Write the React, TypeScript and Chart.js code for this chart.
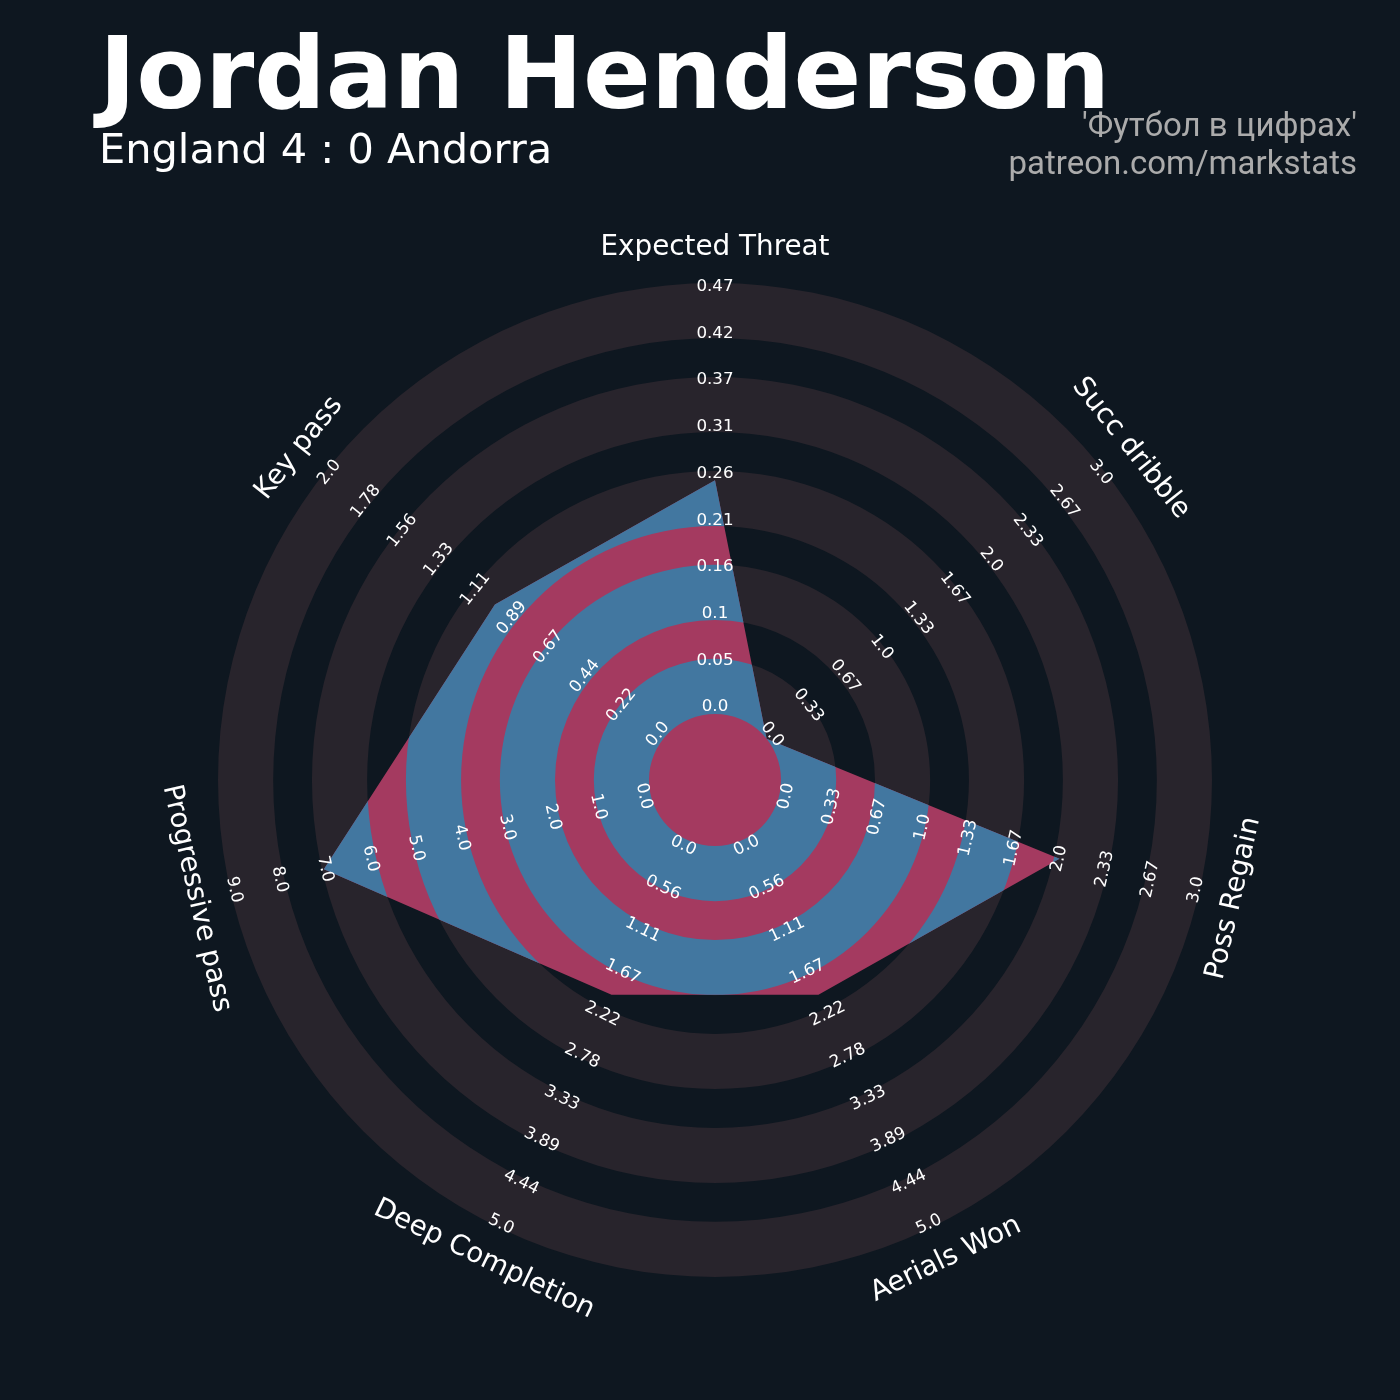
import React, { useEffect, useRef } from "react";
import { Chart, registerables } from "chart.js";

Chart.register(...registerables);

// ---------------- data ----------------
const params = [
  "Expected Threat",
  "Succ dribble",
  "Poss Regain",
  "Aerials Won",
  "Deep Completion",
  "Progressive pass",
  "Key pass",
];
const rangeMin = [0, 0, 0, 0, 0, 0, 0];
const rangeMax = [0.47, 3, 3, 5, 5, 9, 2];
const playerValues = [0.255, 0, 2, 2, 2, 7, 1];

const tickLabels = [
  ["0.0", "0.05", "0.1", "0.16", "0.21", "0.26", "0.31", "0.37", "0.42", "0.47"],
  ["0.0", "0.33", "0.67", "1.0", "1.33", "1.67", "2.0", "2.33", "2.67", "3.0"],
  ["0.0", "0.33", "0.67", "1.0", "1.33", "1.67", "2.0", "2.33", "2.67", "3.0"],
  ["0.0", "0.56", "1.11", "1.67", "2.22", "2.78", "3.33", "3.89", "4.44", "5.0"],
  ["0.0", "0.56", "1.11", "1.67", "2.22", "2.78", "3.33", "3.89", "4.44", "5.0"],
  ["0.0", "1.0", "2.0", "3.0", "4.0", "5.0", "6.0", "7.0", "8.0", "9.0"],
  ["0.0", "0.22", "0.44", "0.67", "0.89", "1.11", "1.33", "1.56", "1.78", "2.0"],
];

const titleText = "Jordan Henderson";
const subtitleText = "England 4 : 0 Andorra";
const creditLines = ["'Футбол в цифрах'", "patreon.com/markstats"];

// ---------------- style ----------------
const BG = "#0E1720";
const RING = "#28242C";
const PINK = "#A43A60";
const BLUE = "#4277A0";
const CREDIT = "#ABABAB";
// ring bands in normalized radial units (0 = inner circle edge, 1 = outer edge)
const ringStarts = [0, 0.218, 0.436, 0.654, 0.872];
const ringWidth = 0.128;
const HOLE = 0.1532; // center circle size in normalized units

function rotFor(i: number, n: number) {
  const a = (i * 360) / n;
  if (a <= 90) return a;
  if (a < 270) return a - 180;
  return a - 360;
}

function drawRotated(ctx: CanvasRenderingContext2D, text: string, x: number, y: number, rotDeg: number) {
  ctx.save();
  ctx.translate(x, y);
  ctx.rotate((rotDeg * Math.PI) / 180);
  ctx.fillText(text, 0, 0);
  ctx.restore();
}

function annulus(ctx: CanvasRenderingContext2D, cx: number, cy: number, r0: number, r1: number) {
  ctx.beginPath();
  ctx.arc(cx, cy, r1, 0, Math.PI * 2, false);
  ctx.moveTo(cx + r0, cy);
  ctx.arc(cx, cy, r0, 0, Math.PI * 2, true);
  ctx.closePath();
}

const radarDeco = {
  id: "radarDeco",
  beforeDatasetsDraw(chart: any) {
    const ctx = chart.ctx as CanvasRenderingContext2D;
    const s = chart.scales.r;
    ctx.save();
    ctx.fillStyle = RING;
    for (const st of ringStarts) {
      const r0 = s.getDistanceFromCenterForValue(st);
      const r1 = s.getDistanceFromCenterForValue(st + ringWidth);
      annulus(ctx, s.xCenter, s.yCenter, r0, r1);
      ctx.fill();
    }
    ctx.restore();
  },
  afterDatasetsDraw(chart: any) {
    const ctx = chart.ctx as CanvasRenderingContext2D;
    const s = chart.scales.r;
    const meta = chart.getDatasetMeta(0);
    const pts = meta.data;
    // blue rings clipped to the polygon
    ctx.save();
    ctx.beginPath();
    pts.forEach((p: any, i: number) => {
      if (i === 0) ctx.moveTo(p.x, p.y);
      else ctx.lineTo(p.x, p.y);
    });
    ctx.closePath();
    ctx.clip();
    ctx.fillStyle = BLUE;
    for (const st of ringStarts) {
      const r0 = s.getDistanceFromCenterForValue(st);
      const r1 = s.getDistanceFromCenterForValue(st + ringWidth);
      annulus(ctx, s.xCenter, s.yCenter, r0, r1);
      ctx.fill();
    }
    ctx.restore();

    // tick labels
    const n = params.length;
    const d0 = s.getDistanceFromCenterForValue(0);
    ctx.save();
    ctx.fillStyle = "#FFFFFF";
    ctx.textAlign = "center";
    ctx.textBaseline = "middle";
    ctx.font = "16.7px 'DejaVu Sans'";
    for (let i = 0; i < n; i++) {
      const labs = tickLabels[i];
      for (let k = 0; k < labs.length; k++) {
        const d = s.getDistanceFromCenterForValue(k / (labs.length - 1));
        const rl = d0 + 7 + (d - d0) * 0.975;
        const p = s.getPointPosition(i, rl);
        drawRotated(ctx, labs[k], p.x, p.y, rotFor(i, n));
      }
    }
    // parameter names
    ctx.font = "27.8px 'DejaVu Sans'";
    const dOut = s.getDistanceFromCenterForValue(1) + 35;
    for (let i = 0; i < n; i++) {
      const p = s.getPointPosition(i, dOut);
      drawRotated(ctx, params[i], p.x, p.y, rotFor(i, n));
    }
    ctx.restore();

    // titles
    ctx.save();
    ctx.fillStyle = "#FFFFFF";
    ctx.textAlign = "left";
    ctx.textBaseline = "alphabetic";
    ctx.font = "bold 100px 'DejaVu Sans'";
    ctx.fillText(titleText, 99, 108);
    ctx.font = "41.5px 'DejaVu Sans'";
    ctx.fillText(subtitleText, 99, 163);
    ctx.fillStyle = CREDIT;
    ctx.textAlign = "right";
    ctx.font = "33px Roboto";
    ctx.fillText(creditLines[0], 1357, 136);
    ctx.fillText(creditLines[1], 1357, 174);
    ctx.restore();
  },
};

export default function App() {
  const ref = useRef<HTMLCanvasElement | null>(null);
  useEffect(() => {
    if (!ref.current) return;
    const normalized = playerValues.map((v, i) => (v - rangeMin[i]) / (rangeMax[i] - rangeMin[i]));
    const chart = new Chart(ref.current, {
      type: "radar",
      data: {
        labels: params,
        datasets: [
          {
            data: normalized,
            backgroundColor: PINK,
            borderWidth: 0,
            borderColor: "rgba(0,0,0,0)",
            pointRadius: 0,
            pointHoverRadius: 0,
            fill: "start",
          },
        ],
      },
      options: {
        animation: false,
        responsive: false,
        maintainAspectRatio: false,
        devicePixelRatio: 1,
        layout: { padding: { left: 218, top: 283, right: 188, bottom: 123 } },
        plugins: { legend: { display: false }, tooltip: { enabled: false }, title: { display: false } },
        elements: { line: { tension: 0 } },
        scales: {
          r: {
            min: -HOLE,
            max: 1,
            ticks: { display: false },
            grid: { display: false },
            angleLines: { display: false },
            pointLabels: { display: false },
          },
        },
      },
      plugins: [radarDeco],
    });
    return () => chart.destroy();
  }, []);
  return (
    <div style={{ position: "fixed", left: 0, top: 0, width: 1400, height: 1400, background: BG }}>
      <canvas ref={ref} width={1400} height={1400} style={{ display: "block", width: 1400, height: 1400 }} />
    </div>
  );
}
